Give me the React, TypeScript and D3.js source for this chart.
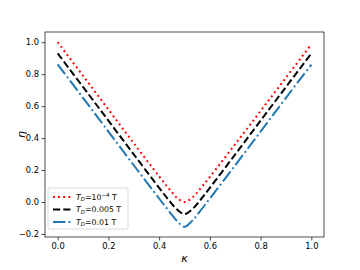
import React, { useEffect, useRef } from "react";
import * as d3 from "d3";

// kappa sample points
const kappa = [0, 0.1, 0.2, 0.3, 0.4, 0.44, 0.47, 0.5, 0.53, 0.56, 0.6, 0.7, 0.8, 0.9, 1.0];

// eta for each T_D
const etaLow = [1.0, 0.79, 0.579, 0.368, 0.16, 0.081, 0.027, 0.0, 0.027, 0.079, 0.157, 0.362, 0.57, 0.778, 0.987];
const etaMid = [0.93, 0.72, 0.509, 0.298, 0.089, 0.008, -0.046, -0.075, -0.046, 0.008, 0.089, 0.298, 0.509, 0.72, 0.93];
const etaHigh = [0.862, 0.652, 0.441, 0.23, 0.022, -0.06, -0.118, -0.155, -0.118, -0.06, 0.022, 0.23, 0.441, 0.652, 0.86];

const xTicks = [0, 0.2, 0.4, 0.6, 0.8, 1.0];
const yTicks = [-0.2, 0, 0.2, 0.4, 0.6, 0.8, 1.0];

const series = [
  { name: "low", values: etaLow, color: "#ff0000", dash: "1.9,3.2", sup: "−4", value: "10" },
  { name: "mid", values: etaMid, color: "#000000", dash: "7.2,3.1", sup: "", value: "0.005" },
  { name: "high", values: etaHigh, color: "#1f77b4", dash: "12.4,3.1,1.9,3.1", sup: "", value: "0.01" },
];

export default function App() {
  const svgRef = useRef<SVGSVGElement>(null);

  useEffect(() => {
    const width = 360;
    const height = 270;
    const margin = { top: 32, right: 36, bottom: 33, left: 45 };

    const svg = d3.select(svgRef.current);
    svg.selectAll("*").remove();
    svg.attr("width", width).attr("height", height);

    const font = "DejaVu Sans, sans-serif";

    const x = d3
      .scaleLinear()
      .domain([-0.05, 1.05])
      .range([margin.left, width - margin.right]);
    const y = d3
      .scaleLinear()
      .domain([-0.219, 1.064])
      .range([height - margin.bottom, margin.top]);

    svg
      .append("clipPath")
      .attr("id", "plotclip")
      .append("rect")
      .attr("x", margin.left)
      .attr("y", margin.top)
      .attr("width", width - margin.left - margin.right)
      .attr("height", height - margin.top - margin.bottom);

    const line = d3
      .line<number>()
      .x((_, i) => x(kappa[i]))
      .y((d) => y(d))
      .curve(d3.curveCatmullRom.alpha(0.5));

    const plot = svg.append("g").attr("clip-path", "url(#plotclip)");
    series.forEach((s) => {
      plot
        .append("path")
        .datum(s.values)
        .attr("d", line)
        .attr("fill", "none")
        .attr("stroke", s.color)
        .attr("stroke-width", 2)
        .attr("stroke-dasharray", s.dash);
    });

    // axes
    const xAxis = svg
      .append("g")
      .attr("transform", `translate(0,${height - margin.bottom})`)
      .call(
        d3
          .axisBottom(x)
          .tickValues(xTicks)
          .tickFormat(d3.format(".1f"))
          .tickSize(3.5)
          .tickPadding(2.5)
      );
    const yAxis = svg
      .append("g")
      .attr("transform", `translate(${margin.left},0)`)
      .call(
        d3
          .axisLeft(y)
          .tickValues(yTicks)
          .tickFormat((d) => d3.format(".1f")(d as number).replace("-", "−"))
          .tickSize(3.5)
          .tickPadding(2.5)
      );
    [xAxis, yAxis].forEach((g) => {
      g.select(".domain").remove();
      g.selectAll("line").attr("stroke", "#000").attr("stroke-width", 0.7);
      g.selectAll("text")
        .attr("fill", "#000")
        .style("font-family", font)
        .style("font-size", "8.4px");
    });

    // frame
    svg
      .append("rect")
      .attr("x", margin.left)
      .attr("y", margin.top)
      .attr("width", width - margin.left - margin.right)
      .attr("height", height - margin.top - margin.bottom)
      .attr("fill", "none")
      .attr("stroke", "#000")
      .attr("stroke-width", 0.7);

    // axis labels
    svg
      .append("text")
      .attr("x", (margin.left + width - margin.right) / 2)
      .attr("y", 262)
      .attr("text-anchor", "middle")
      .style("font-family", font)
      .style("font-style", "italic")
      .style("font-size", "11px")
      .text("κ");
    svg
      .append("text")
      .attr("transform", `translate(25,${(margin.top + height - margin.bottom) / 2}) rotate(-90)`)
      .attr("text-anchor", "middle")
      .style("font-family", font)
      .style("font-style", "italic")
      .style("font-size", "11px")
      .text("η");

    // legend
    const lg = svg.append("g").attr("transform", "translate(48,188)");
    lg.append("rect")
      .attr("width", 80)
      .attr("height", 41)
      .attr("rx", 2)
      .attr("fill", "#fff")
      .attr("fill-opacity", 0.8)
      .attr("stroke", "#cccccc")
      .attr("stroke-width", 0.7);
    series.forEach((s, i) => {
      const yy = 9 + i * 12.5;
      lg.append("line")
        .attr("x1", 5)
        .attr("x2", 23)
        .attr("y1", yy)
        .attr("y2", yy)
        .attr("stroke", s.color)
        .attr("stroke-width", 2)
        .attr("stroke-dasharray", s.dash);
      const t = lg
        .append("text")
        .attr("x", 28)
        .attr("y", yy + 2.8)
        .style("font-family", font)
        .style("font-size", "7.8px");
      t.append("tspan").style("font-style", "italic").text("T");
      t.append("tspan")
        .style("font-style", "italic")
        .style("font-size", "5.5px")
        .attr("dy", 1.5)
        .text("D");
      t.append("tspan").attr("dy", -1.5).text("=" + s.value);
      if (s.sup) {
        t.append("tspan").style("font-size", "5.5px").attr("dy", -3).text(s.sup);
        t.append("tspan").attr("dy", 3).text(" T");
      } else {
        t.append("tspan").text(" T");
      }
    });
  }, []);

  return (
    <div style={{ position: "absolute", left: 0, top: 0 }}>
      <svg ref={svgRef} style={{ display: "block" }}></svg>
    </div>
  );
}
